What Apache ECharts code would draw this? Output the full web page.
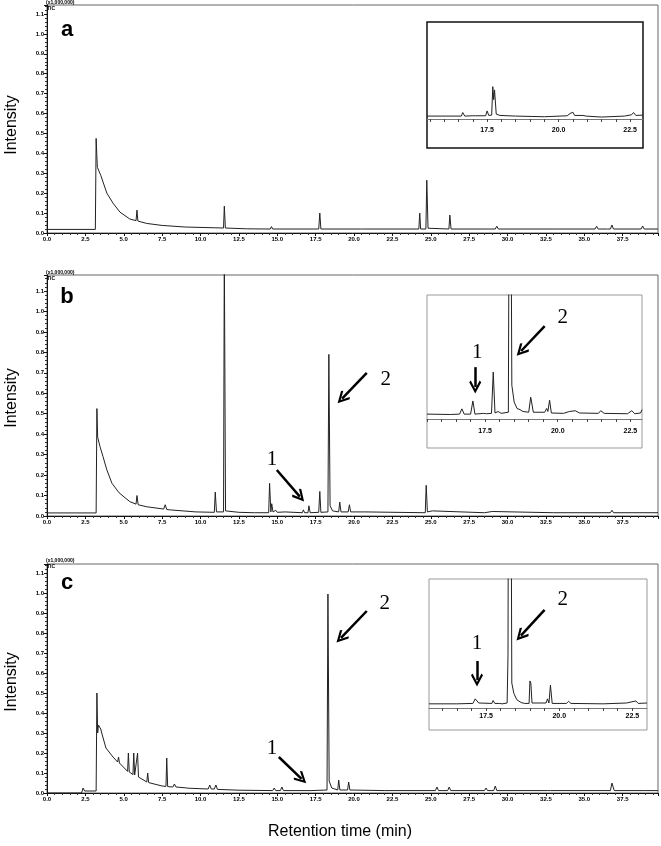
<!DOCTYPE html>
<html><head><meta charset="utf-8">
<script src="https://cdn.jsdelivr.net/npm/echarts@6/dist/echarts.min.js"></script>
<style>html,body{margin:0;padding:0;background:#fff}#c{width:661px;height:846px}</style>
</head><body><div id="c"></div>
<script>
// ---------- DATA (retention time in min, intensity x1,000,000) ----------
const A_MAIN = [[0,0.018],[3.15,0.018],[3.2,0.475],[3.24,0.40],[3.28,0.33],[3.5,0.29],[3.9,0.2],[4.3,0.15],[4.75,0.105],[5.4,0.07],[5.8,0.062],[5.86,0.115],[5.92,0.06],[6.5,0.048],[7.5,0.038],[9,0.03],[11.0,0.026],[11.5,0.025],[11.55,0.135],[11.62,0.025],[13,0.021],[14.55,0.02],[14.62,0.032],[14.7,0.02],[17.7,0.02],[17.77,0.1],[17.84,0.02],[20.4,0.02],[20.5,0.028],[20.6,0.02],[24.22,0.02],[24.28,0.1],[24.34,0.02],[24.68,0.02],[24.74,0.265],[24.82,0.024],[26.18,0.02],[26.24,0.09],[26.32,0.02],[28.6,0.02],[28.7,0.026],[28.8,0.02],[29.2,0.02],[29.3,0.034],[29.4,0.02],[32.7,0.02],[32.8,0.03],[32.9,0.02],[35.7,0.02],[35.8,0.034],[35.9,0.02],[36.5,0.02],[36.6,0.03],[36.7,0.02],[36.8,0.04],[36.9,0.02],[38.7,0.02],[38.8,0.035],[38.9,0.02],[39.8,0.02]];
const B_MAIN = [[0,0.015],[3.2,0.015],[3.25,0.525],[3.3,0.385],[3.45,0.34],[3.65,0.29],[3.9,0.225],[4.23,0.16],[4.7,0.113],[4.75,0.12],[4.82,0.108],[5.4,0.07],[5.8,0.058],[5.86,0.1],[5.94,0.055],[6.5,0.045],[7.6,0.034],[7.7,0.055],[7.8,0.032],[8.0,0.03],[9.7,0.02],[10.9,0.018],[10.96,0.117],[11.04,0.02],[11.5,0.02],[11.55,1.3],[11.63,0.025],[12.5,0.018],[13.5,0.016],[14.44,0.016],[14.5,0.16],[14.58,0.02],[14.64,0.06],[14.72,0.02],[14.9,0.028],[15.0,0.018],[15.5,0.02],[16.64,0.016],[16.7,0.03],[16.78,0.016],[17.0,0.016],[17.06,0.05],[17.14,0.016],[17.7,0.018],[17.77,0.12],[17.84,0.018],[18.3,0.02],[18.36,0.79],[18.44,0.05],[18.6,0.025],[19.0,0.02],[19.07,0.068],[19.15,0.02],[19.62,0.02],[19.7,0.055],[19.78,0.02],[20.4,0.02],[20.5,0.028],[20.7,0.02],[24.64,0.016],[24.7,0.15],[24.78,0.02],[25.1,0.025],[25.2,0.016],[28.5,0.016],[29.0,0.022],[29.1,0.016],[33,0.016],[36.7,0.016],[36.8,0.028],[36.9,0.016],[39.8,0.016]];
const C_MAIN = [[0,0.0],[2.25,0.0],[2.35,0.025],[2.45,0.01],[3.2,0.01],[3.25,0.5],[3.3,0.3],[3.35,0.34],[3.5,0.32],[3.6,0.29],[3.84,0.225],[4.3,0.18],[4.6,0.155],[4.66,0.18],[4.72,0.15],[5.25,0.108],[5.3,0.2],[5.36,0.105],[5.6,0.092],[5.65,0.2],[5.71,0.09],[5.84,0.085],[5.9,0.2],[5.96,0.08],[6.5,0.055],[6.56,0.1],[6.62,0.052],[7.5,0.035],[7.75,0.033],[7.8,0.175],[7.86,0.032],[8.2,0.03],[8.3,0.045],[8.4,0.03],[9.0,0.026],[9.1,0.032],[9.2,0.024],[10.5,0.02],[10.6,0.04],[10.7,0.02],[10.9,0.02],[11.0,0.04],[11.1,0.018],[12.5,0.014],[14.7,0.012],[14.8,0.025],[14.9,0.012],[15.2,0.012],[15.3,0.03],[15.4,0.012],[17.0,0.012],[17.06,0.022],[17.2,0.012],[18.24,0.015],[18.3,0.995],[18.38,0.06],[18.55,0.025],[18.94,0.015],[19.0,0.065],[19.08,0.015],[19.58,0.015],[19.65,0.055],[19.73,0.015],[22,0.012],[25.3,0.012],[25.4,0.03],[25.5,0.012],[26.1,0.012],[26.2,0.03],[26.3,0.012],[28.5,0.012],[28.6,0.025],[28.7,0.012],[29.1,0.012],[29.2,0.035],[29.3,0.012],[32.6,0.012],[32.7,0.022],[32.8,0.012],[36.7,0.012],[36.8,0.05],[36.95,0.012],[38.7,0.012],[38.8,0.02],[38.9,0.012],[39.8,0.012]];

const A_INSET = [[15.4,0.009],[16.6,0.009],[16.65,0.02],[16.72,0.009],[17.0,0.01],[17.05,0.016],[17.1,0.01],[17.45,0.01],[17.5,0.025],[17.56,0.011],[17.66,0.012],[17.7,0.1],[17.73,0.06],[17.76,0.09],[17.82,0.015],[17.95,0.011],[18.5,0.009],[19.5,0.007],[20.3,0.01],[20.4,0.017],[20.46,0.011],[20.5,0.021],[20.56,0.011],[20.85,0.011],[20.9,0.017],[20.96,0.009],[21.5,0.006],[22.3,0.009],[22.55,0.013],[22.62,0.02],[22.7,0.011],[22.95,0.012]];
const B_INSET = [[15.5,0.013],[16.3,0.012],[16.62,0.013],[16.7,0.027],[16.78,0.013],[17.0,0.013],[17.08,0.048],[17.15,0.013],[17.45,0.015],[17.5,0.02],[17.55,0.014],[17.72,0.015],[17.78,0.125],[17.84,0.016],[17.95,0.02],[18.05,0.015],[18.3,0.018],[18.34,0.9],[18.38,0.8],[18.42,0.09],[18.5,0.045],[18.6,0.028],[18.7,0.025],[18.8,0.02],[19.0,0.018],[19.07,0.058],[19.1,0.062],[19.16,0.018],[19.55,0.018],[19.62,0.028],[19.66,0.02],[19.72,0.05],[19.78,0.016],[20.2,0.015],[20.4,0.02],[20.6,0.022],[20.75,0.016],[21.4,0.015],[21.48,0.022],[21.6,0.015],[22.4,0.014],[22.55,0.022],[22.65,0.014],[22.85,0.016],[22.9,0.025]];
const C_INSET = [[15.55,0.01],[16.5,0.01],[17.05,0.011],[17.13,0.022],[17.25,0.012],[17.7,0.011],[17.74,0.018],[17.8,0.011],[17.95,0.011],[17.98,0.015],[18.05,0.01],[18.22,0.012],[18.25,0.127],[18.28,1.2],[18.33,1.1],[18.38,0.06],[18.45,0.035],[18.55,0.02],[18.7,0.013],[18.76,0.017],[18.82,0.011],[18.97,0.011],[19.0,0.065],[19.03,0.06],[19.07,0.012],[19.55,0.012],[19.6,0.022],[19.65,0.012],[19.7,0.055],[19.76,0.011],[20.25,0.011],[20.32,0.016],[20.4,0.011],[21.5,0.01],[22.3,0.012],[22.62,0.017],[22.7,0.011],[23.0,0.012]];

// tick labels
const INSET_TICKS = [15.5,16.0,16.5,17.0,17.5,18.0,18.5,19.0,19.5,20.0,20.5,21.0,21.5,22.0,22.5];
const INSET_LABELS = [17.5,20.0,22.5];
const PANEL_LETTERS = ['a','b','c'];

// annotations (data coordinates): arrows [from, to] and numbers [t, y, text]
const B_MAIN_ARROWS = [[[14.97,0.225],[16.47,0.095]],[[20.83,0.70],[19.22,0.574]]];
const B_MAIN_NUMS = [[14.65,0.274,'1'],[22.07,0.665,'2']];
const C_MAIN_ARROWS = [[[15.1,0.18],[16.58,0.071]],[[20.83,0.91],[19.15,0.776]]];
const C_MAIN_NUMS = [[14.65,0.225,'1'],[22.0,0.95,'2']];
const B_INSET_ARROWS = [[[17.16,0.138],[17.16,0.085]],[[19.55,0.247],[18.74,0.181]]];
const B_INSET_NUMS = [[17.23,0.178,'1'],[20.17,0.271,'2']];
const C_INSET_ARROWS = [[[17.19,0.113],[17.19,0.067]],[[19.5,0.236],[18.69,0.174]]];
const C_INSET_NUMS = [[17.19,0.156,'1'],[20.12,0.26,'2']];

// ---------- LAYOUT ----------
const FONT = 'Liberation Sans';
const mainGrids = [{left:47,top:5,width:611,height:228},{left:47,top:275,width:611,height:241},{left:47,top:564,width:611,height:229}];
const yMax = [1.145,1.178,1.145];
// inset plotting areas (above the inset axis line) and the boxes around them
const insetGrids = [{left:427,top:22,width:216,height:97},{left:427,top:295,width:215,height:124},{left:429,top:579,width:218,height:129}];
const insetBoxes = [{x:427,y:22,w:216,h:126},{x:427,y:295,w:215,h:153},{x:429,y:579,w:218,h:151}];
const insetX = [[15.4,22.95],[15.5,22.9],[15.55,23.0]];
const insetYMax = [0.3,0.33,0.31];
const insetLabelMargin = [8,9,5];
const insetBorder = [{c:'#111',w:1.5},{c:'#999',w:1},{c:'#999',w:1}];
const CHEV = 'path://M0,0 L10,13 L7.4,15 L0,5.2 L-7.4,15 L-10,13 Z';

const onStep = (step) => (v) => { const k = v/step; return Math.abs(k-Math.round(k))<1e-6 ? v.toFixed(1) : ''; };

const grids = [], xAxes = [], yAxes = [], series = [];
mainGrids.forEach((g,i)=>{
  grids.push(Object.assign({show:true,borderColor:'#666',borderWidth:1,backgroundColor:'transparent'},g));
  xAxes.push({type:'value',gridIndex:i,min:0,max:39.8,interval:2.5,
    axisLine:{show:true,onZero:false,lineStyle:{color:'#111',width:1}},
    axisTick:{show:true,length:3,lineStyle:{color:'#111'}},
    minorTick:{show:true,splitNumber:5,length:2,lineStyle:{color:'#333'}},
    splitLine:{show:false},
    axisLabel:{fontSize:6,fontWeight:'bold',fontFamily:FONT,color:'#000',margin:3,formatter:onStep(2.5)}});
  yAxes.push({type:'value',gridIndex:i,min:0,max:yMax[i],interval:0.1,
    axisLine:{show:true,onZero:false,lineStyle:{color:'#111',width:1}},
    axisTick:{show:true,length:3,lineStyle:{color:'#111'}},
    minorTick:{show:true,splitNumber:5,length:2,lineStyle:{color:'#333'}},
    splitLine:{show:false},
    axisLabel:{fontSize:6,fontWeight:'bold',fontFamily:FONT,color:'#000',margin:3,formatter:onStep(0.1)}});
});
insetGrids.forEach((g,i)=>{
  grids.push(Object.assign({show:false},g));
  xAxes.push({type:'value',gridIndex:3+i,min:insetX[i][0],max:insetX[i][1],
    axisLine:{show:true,onZero:false,lineStyle:{color:'#777',width:1}},
    axisTick:{show:true,customValues:INSET_TICKS,length:3,lineStyle:{color:'#444'}},
    splitLine:{show:false},
    axisLabel:{customValues:INSET_LABELS,fontSize:7,fontWeight:'bold',fontFamily:FONT,color:'#000',margin:insetLabelMargin[i],formatter:v=>v.toFixed(1)}});
  yAxes.push({type:'value',gridIndex:3+i,min:0,max:insetYMax[i],show:false,splitLine:{show:false}});
});

function lineSeries(data, idx, arrows, nums){
  const s = {type:'line',xAxisIndex:idx,yAxisIndex:idx,data:data,showSymbol:false,symbol:'none',
    clip:true,silent:true,lineStyle:{color:'#222',width:1},animation:false,z:3};
  if(arrows){
    s.markLine = {silent:true,symbol:['none',CHEV],symbolSize:[12,13],animation:false,
      lineStyle:{color:'#000',width:2.5,type:'solid'},itemStyle:{color:'#000'},
      label:{show:false},emphasis:{disabled:true},
      data:arrows.map(a=>[{coord:a[0]},{coord:a[1]}])};
  }
  if(nums){
    s.markPoint = {silent:true,symbol:'rect',symbolSize:1,animation:false,
      itemStyle:{color:'rgba(0,0,0,0)'},
      label:{show:true,position:'inside',formatter:p=>p.name,fontFamily:'Liberation Serif',fontSize:21,color:'#000'},
      data:nums.map(n=>({name:n[2],coord:[n[0],n[1]]}))};
  }
  return s;
}
series.push(lineSeries(A_MAIN,0));
series.push(lineSeries(B_MAIN,1,B_MAIN_ARROWS,B_MAIN_NUMS));
series.push(lineSeries(C_MAIN,2,C_MAIN_ARROWS,C_MAIN_NUMS));
series.push(lineSeries(A_INSET,3));
series.push(lineSeries(B_INSET,4,B_INSET_ARROWS,B_INSET_NUMS));
series.push(lineSeries(C_INSET,5,C_INSET_ARROWS,C_INSET_NUMS));

const letterPos = [[67,30],[67,297],[67,583]];
const intensityY = [125,398,682];
const headerY = [0,270,558];
const graphic = [];
insetBoxes.forEach((b,i)=>{
  graphic.push({type:'rect',z:-1,shape:{x:b.x,y:b.y,width:b.w,height:b.h},
    style:{fill:'#fff',stroke:insetBorder[i].c,lineWidth:insetBorder[i].w}});
});
PANEL_LETTERS.forEach((L,i)=>{
  graphic.push({type:'text',x:letterPos[i][0],y:letterPos[i][1],z:10,
    style:{text:L,fontSize:22,fontWeight:'bold',fontFamily:FONT,fill:'#000',align:'center',verticalAlign:'middle'}});
  graphic.push({type:'text',x:12,y:intensityY[i],rotation:Math.PI/2,z:10,
    style:{text:'Intensity',fontSize:16,fontFamily:FONT,fill:'#000',align:'center',verticalAlign:'middle'}});
  graphic.push({type:'text',x:46,y:headerY[i],z:10,
    style:{text:'(x1,000,000)',fontSize:5,fontWeight:'bold',fontFamily:FONT,fill:'#000',align:'left',verticalAlign:'top'}});
  graphic.push({type:'text',x:47,y:headerY[i]+6,z:10,
    style:{text:'TIC',fontSize:5,fontWeight:'bold',fontFamily:FONT,fill:'#000',align:'left',verticalAlign:'top'}});
});
graphic.push({type:'text',x:340,y:832,z:10,
  style:{text:'Retention time (min)',fontSize:16,fontFamily:FONT,fill:'#000',align:'center',verticalAlign:'middle'}});

const chart = echarts.init(document.getElementById('c'));
chart.setOption({animation:false,backgroundColor:'#fff',grid:grids,xAxis:xAxes,yAxis:yAxes,series:series,graphic:graphic});
</script></body></html>
